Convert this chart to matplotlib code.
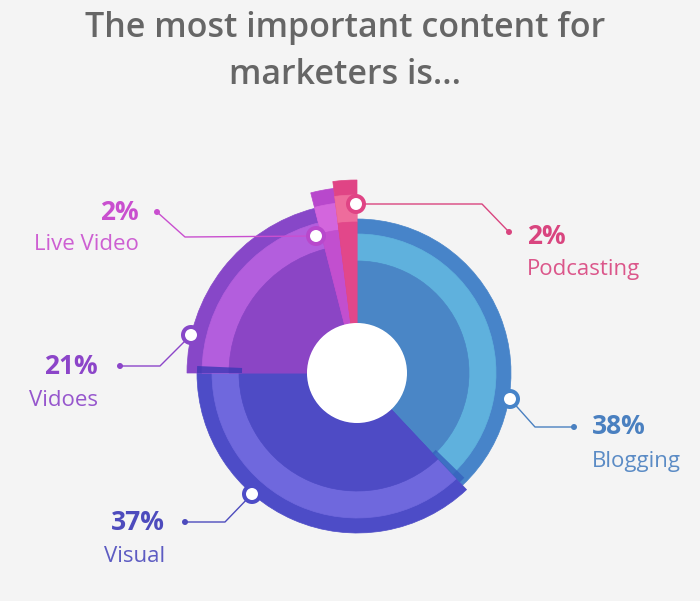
import numpy as np
import matplotlib.pyplot as plt
from matplotlib.patches import Wedge, Circle

# Data
categories = ['Blogging', 'Visual', 'Vidoes', 'Live Video', 'Podcasting']
shares = [38, 37, 21, 2, 2]
pct_labels = ['38%', '37%', '21%', '2%', '2%']

# Styling per slice (outer radius in pixels and three ring colours)
outer_r = [154, 160, 170, 186, 193]
col_outer = ['#4784c9', '#4d4cc7', '#8747c8', '#b848cc', '#e04485']
col_band = ['#5fb1dd', '#6f68dd', '#b35edd', '#d366dd', '#ee6c9c']
col_inner = ['#4a86c6', '#4e4bc5', '#8b45c5', '#c24fcf', '#e2478a']
col_text = ['#4a80c0', '#4d4bbd', '#8c45c9', '#c94fcf', '#d9457f']

W, H = 700, 601
CX, CY = 357, 373   # pie centre, pixels from top-left
HOLE = 50


def px(x, y):
    # convert picture pixel position to axes coordinates
    return x - CX, CY - y


# leader lines (pixel positions: marker circle -> elbow -> dot)
leaders = [
    [(510, 399), (535, 427), (574, 427)],
    [(252, 494), (225, 522), (185, 522)],
    [(191, 335), (160, 366), (120, 366)],
    [(316, 236), (185, 237), (157, 212)],
    [(356, 204), (482, 204), (509, 232)],
]
# text anchor x, percent y, name y, alignment
text_pos = [
    (592, 427, 462, 'left'),
    (165, 522, 557, 'right'),
    (98, 366, 401, 'right'),
    (139, 213, 245, 'right'),
    (527, 237, 270, 'left'),
]

fig = plt.figure(figsize=(7, 6.01), dpi=100, facecolor='#f4f4f4')
ax = fig.add_axes([0, 0, 1, 1])
ax.set_xlim(-CX, W - CX)
ax.set_ylim(CY - H, CY)
ax.axis('off')
ax.set_facecolor('#f4f4f4')

# slices, going clockwise from 12 o'clock
edges = np.cumsum([0] + shares) * 3.6
for i in range(len(shares)):
    t2 = 90 - edges[i]
    t1 = 90 - edges[i + 1]
    R = outer_r[i]
    ax.add_patch(Wedge((0, 0), R, t1, t2, width=R - HOLE,
                       fc=col_outer[i], ec=col_outer[i], lw=0.5))
    ax.add_patch(Wedge((0, 0), R - 15, t1, t2, width=27,
                       fc=col_band[i], ec=col_band[i], lw=0.5))
    ax.add_patch(Wedge((0, 0), R - 42, t1, t2, width=R - 42 - HOLE,
                       fc=col_inner[i], ec=col_inner[i], lw=0.5))

# small shadow strips at the slice joins
b_end = 90 - edges[1]
ax.add_patch(Wedge((0, 0), 150, b_end, b_end + 2.5, width=40, fc='#3560bd', ec='none', alpha=0.8))
ax.add_patch(Wedge((0, 0), 160, 177.5, 180, width=45, fc='#3b38b5', ec='none', alpha=0.8))

ax.add_patch(Circle((0, 0), HOLE, fc='white', ec='none', zorder=3))

# leader lines, markers and labels
for i in range(len(shares)):
    pts = [px(x, y) for x, y in leaders[i]]
    xs, ys = zip(*pts)
    ax.plot(xs, ys, color=col_text[i], lw=1.0, zorder=4)
    ax.add_patch(Circle(pts[0], 10, fc=col_outer[i], ec='none', zorder=5))
    ax.add_patch(Circle(pts[0], 6, fc='white', ec='none', zorder=6))
    ax.add_patch(Circle(pts[-1], 3, fc=col_text[i], ec='none', zorder=6))

    tx, py, ny, ha = text_pos[i]
    ax.text(*px(tx, py), pct_labels[i], ha=ha, va='center', color=col_text[i],
            fontsize=19, fontweight='bold', family='Open Sans')
    ax.text(*px(tx, ny), categories[i], ha=ha, va='center', color=col_text[i],
            fontsize=16, family='Open Sans', alpha=0.9)

fig.text(345 / W, 1 - 28 / H, 'The most important content for', ha='center', va='center',
         fontsize=24.5, color='#666666', fontweight='semibold', family='Open Sans')
fig.text(345 / W, 1 - 75 / H, 'marketers is...', ha='center', va='center',
         fontsize=24.5, color='#666666', fontweight='semibold', family='Open Sans')

fig.savefig('out.png', dpi=100, facecolor=fig.get_facecolor())
